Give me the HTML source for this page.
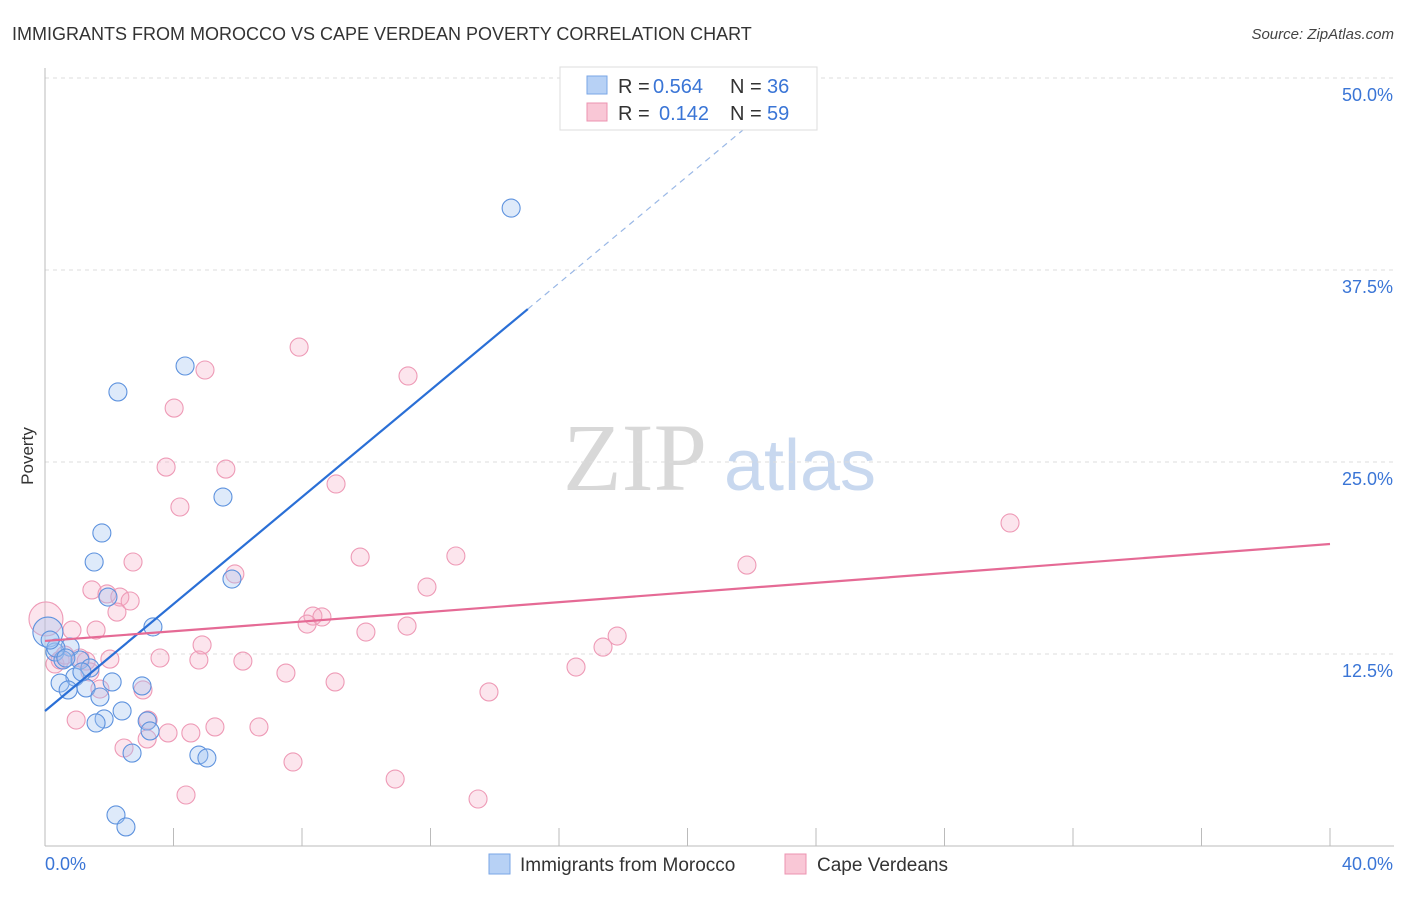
<!DOCTYPE html>
<html><head><meta charset="utf-8"><style>
body{margin:0;background:#fff;font-family:"Liberation Sans",sans-serif}
</style></head><body>
<svg id="chart" width="1406" height="892" xmlns="http://www.w3.org/2000/svg" style="font-family:'Liberation Sans',sans-serif">
<text x="12" y="40" font-size="18" fill="#333">IMMIGRANTS FROM MOROCCO VS CAPE VERDEAN POVERTY CORRELATION CHART</text>
<text x="1394" y="39" font-size="15" fill="#444" font-style="italic" text-anchor="end">Source: ZipAtlas.com</text>
<g>
<text x="635" y="490" font-size="96" font-family="'Liberation Serif',serif" fill="#d8d8d8" text-anchor="middle">ZIP</text>
<text x="800" y="490" font-size="72" fill="#c8d8ef" text-anchor="middle">atlas</text>
</g>
<g id="grid"></g>
<g id="axes"></g>
<g id="marks"></g>
<text transform="translate(33,456) rotate(-90)" font-size="17" fill="#333" text-anchor="middle">Poverty</text>
<g>
<rect x="560" y="67" width="257" height="63" fill="#fff" stroke="#ddd"/>
<rect x="587" y="76" width="20" height="18" fill="#b7d1f5" stroke="#7aa6e6"/>
<rect x="587" y="103" width="20" height="18" fill="#f9c7d6" stroke="#ec93b0"/>
<text x="618" y="93" font-size="20" fill="#333">R =</text>
<text x="653" y="93" font-size="20" fill="#3a75d6">0.564</text>
<text x="730" y="93" font-size="20" fill="#333">N =</text>
<text x="767" y="93" font-size="20" fill="#3a75d6">36</text>
<text x="618" y="120" font-size="20" fill="#333">R =</text>
<text x="659" y="120" font-size="20" fill="#3a75d6">0.142</text>
<text x="730" y="120" font-size="20" fill="#333">N =</text>
<text x="767" y="120" font-size="20" fill="#3a75d6">59</text>
</g>
<g>
<rect x="489" y="854" width="21" height="20" fill="#b7d1f5" stroke="#7aa6e6"/>
<text x="520" y="871" font-size="19" fill="#333">Immigrants from Morocco</text>
<rect x="785" y="854" width="21" height="20" fill="#f9c7d6" stroke="#ec93b0"/>
<text x="817" y="871" font-size="19" fill="#333">Cape Verdeans</text>
</g>
</svg>
<script>
const yTicks=[12.5,25.0,37.5,50.0];
const yTickLabels=["12.5%","25.0%","37.5%","50.0%"];
const xTickLabels=["0.0%","40.0%"];
const blueX=[14.51,4.36,2.27,5.54,1.77,1.53,5.82,1.96,3.36,0.09,0.78,0.31,0.56,1.09,1.40,0.93,0.47,0.72,1.28,2.09,3.02,1.71,2.40,1.84,1.59,3.18,3.27,2.71,4.79,5.04,2.21,2.52,0.34,0.16,1.15,0.65];
const blueY=[41.53,31.25,29.56,22.72,20.38,18.49,17.38,16.21,14.26,13.93,12.95,12.63,12.11,12.11,11.59,11.0,10.61,10.16,10.29,10.68,10.42,9.70,8.79,8.27,8.01,8.14,7.49,6.05,5.92,5.73,2.02,1.24,12.89,13.41,11.33,12.24];
const pinkX=[7.91,4.98,11.30,4.02,3.77,5.63,4.20,9.06,30.04,21.85,2.74,9.81,12.79,5.91,1.46,1.93,2.33,2.65,11.89,2.24,8.34,8.62,8.16,0.03,11.27,9.99,0.84,1.59,17.81,17.37,4.89,3.58,2.02,4.79,6.16,1.28,0.31,16.53,7.50,9.03,1.71,3.05,13.82,0.97,3.21,5.29,6.66,3.83,4.54,3.18,2.46,7.72,10.90,4.39,13.48,0.47,1.09,0.62,1.40];
const pinkY=[32.48,30.99,30.60,28.51,24.67,24.54,22.07,23.57,21.03,18.29,18.49,18.81,18.88,17.71,16.67,16.41,16.21,15.95,16.86,15.23,14.97,14.91,14.45,14.78,14.32,13.93,14.06,14.06,13.67,12.95,13.09,12.24,12.17,12.11,12.04,12.04,11.85,11.65,11.26,10.68,10.22,10.16,10.03,8.20,8.20,7.75,7.75,7.36,7.36,6.97,6.38,5.47,4.36,3.32,3.06,12.11,12.24,12.43,11.33];
const blueTrend=[8.79,1.741];
const pinkTrend=[13.35,19.66];
const NS="http://www.w3.org/2000/svg";
const X=v=>45+v/40*1285, Y=v=>846-v/12.5*192;
function mk(t,a,p){const e=document.createElementNS(NS,t);for(const k in a)e.setAttribute(k,a[k]);p.appendChild(e);return e;}
const grid=document.getElementById('grid'),axes=document.getElementById('axes'),marks=document.getElementById('marks');
yTicks.forEach((t,i)=>{
 const l=mk('line',{x1:45,x2:1394,y1:Y(t),y2:Y(t),stroke:'#ddd','stroke-dasharray':'4,4'},grid);
 
 
 const tx=mk('text',{x:1393,y:Y(t)+23,'font-size':18,fill:'#3a75d6','text-anchor':'end'},axes);
 tx.textContent=yTickLabels[i];
 
 
});
mk('line',{x1:45,x2:45,y1:68,y2:846,stroke:'#bbb'},axes);
mk('line',{x1:45,x2:1394,y1:846,y2:846,stroke:'#bbb'},axes);
for(let i=0;i<=10;i++){const l=mk('line',{x1:X(i*4),x2:X(i*4),y1:828,y2:846,stroke:'#bbb'},axes);
 
 }
const xl0=mk('text',{x:45,y:870,'font-size':18,fill:'#3a75d6'},axes);xl0.textContent=xTickLabels[0];


const xl1=mk('text',{x:1393,y:870,'font-size':18,fill:'#3a75d6','text-anchor':'end'},axes);xl1.textContent=xTickLabels[1];


pinkX.forEach((v,i)=>{const c=mk('circle',{cx:X(v),cy:Y(pinkY[i]),r:i==23?17:9,fill:'rgba(246,170,195,0.3)',stroke:'#ee9ab6','stroke-width':1.1},marks);
 
 });
blueX.forEach((v,i)=>{const c=mk('circle',{cx:X(v),cy:Y(blueY[i]),r:i==9?15:9,fill:'rgba(160,196,240,0.35)',stroke:'#5d92de','stroke-width':1.1},marks);
 
 });
const bt=mk('line',{x1:X(0),y1:Y(blueTrend[0]),x2:X(15.03),y2:Y(blueTrend[0]+blueTrend[1]*15.03),stroke:'#2a6fd6','stroke-width':2.2},marks);


const bd=mk('line',{x1:X(15.03),y1:Y(blueTrend[0]+blueTrend[1]*15.03),x2:X(22.6),y2:Y(blueTrend[0]+blueTrend[1]*22.6),stroke:'#9ab8e6','stroke-width':1.2,'stroke-dasharray':'6,5'},marks);


const pt=mk('line',{x1:X(0),y1:Y(pinkTrend[0]),x2:X(40),y2:Y(pinkTrend[1]),stroke:'#e56a95','stroke-width':2.2},marks);


</script>
</body></html>
